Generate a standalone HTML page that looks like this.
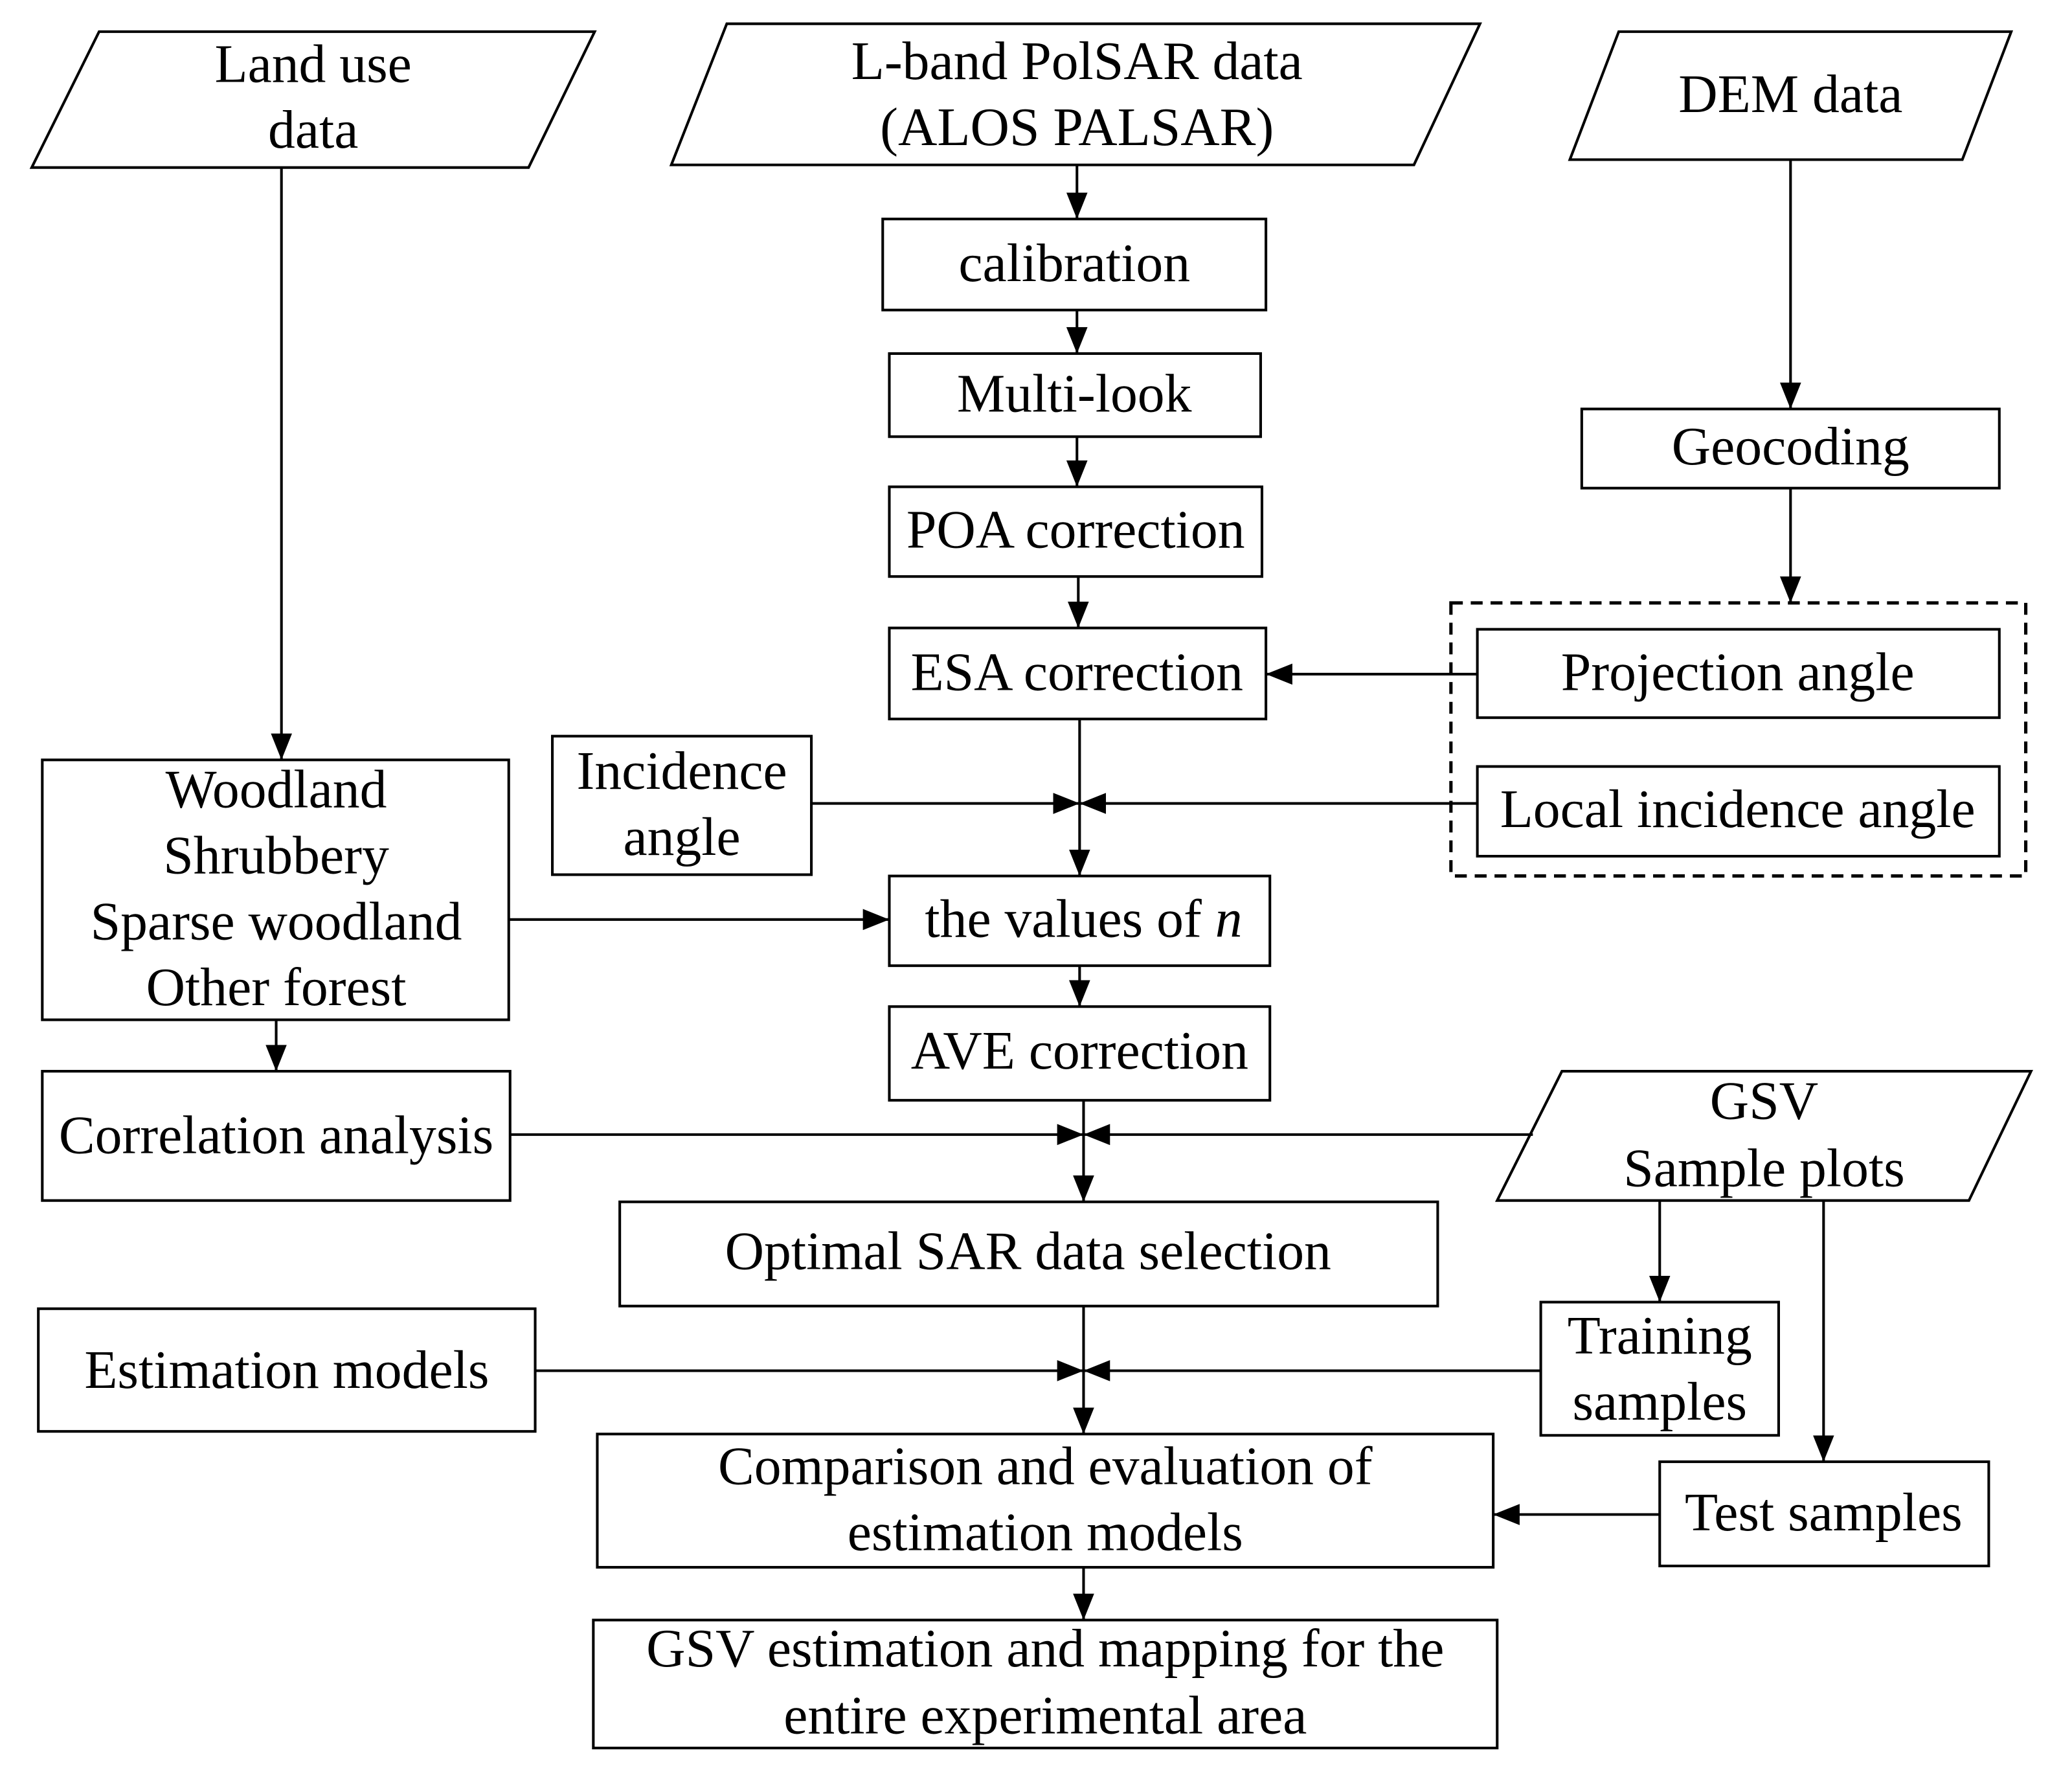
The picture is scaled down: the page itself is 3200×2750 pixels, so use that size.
<!DOCTYPE html>
<html><head><meta charset="utf-8"><style>
html,body{margin:0;padding:0;background:#fff;}
svg{display:block;}
text{font-family:"Liberation Serif",serif;font-size:41px;fill:#000;text-anchor:middle;}
</style></head><body>
<svg width="3200" height="2750" viewBox="0 0 1568 1350" preserveAspectRatio="none" xmlns="http://www.w3.org/2000/svg">
<defs>
<marker id="a" markerUnits="userSpaceOnUse" markerWidth="20" markerHeight="16" refX="20" refY="8" orient="auto">
<path d="M0,0 L20,8 L0,16 Z" fill="#000"/></marker>
</defs>
<g fill="none" stroke="#000" stroke-width="2">
<polygon points="75,24 450,24 400,127 24,127"/>
<polygon points="550,18 1120,18 1070,125 508,125"/>
<polygon points="1225,24 1522,24 1485,121 1188,121"/>
<rect x="668" y="166" width="290" height="69"/>
<rect x="673" y="268" width="281" height="63"/>
<rect x="673" y="369" width="282" height="68"/>
<rect x="673" y="476" width="285" height="69"/>
<rect x="1197" y="310" width="316" height="60"/>
<rect x="1098" y="457" width="435" height="207" stroke-dasharray="9,6" stroke-width="2.5"/>
<rect x="1118" y="477" width="395" height="67"/>
<rect x="1118" y="581" width="395" height="68"/>
<rect x="418" y="558" width="196" height="105"/>
<rect x="673" y="664" width="288" height="68"/>
<rect x="32" y="576" width="353" height="197"/>
<rect x="673" y="763" width="288" height="71"/>
<rect x="32" y="812" width="354" height="98"/>
<polygon points="1182,812 1537,812 1490,910 1133,910"/>
<rect x="469" y="911" width="619" height="79"/>
<rect x="29" y="992" width="376" height="93"/>
<rect x="1166" y="987" width="180" height="101"/>
<rect x="452" y="1087" width="678" height="101"/>
<rect x="1256" y="1108" width="249" height="79"/>
<rect x="449" y="1228" width="684" height="97"/>
</g>
<g fill="none" stroke="#000" stroke-width="2" marker-end="url(#a)">
<line x1="213" y1="127" x2="213" y2="576"/>
<line x1="815" y1="125" x2="815" y2="166"/>
<line x1="815" y1="235" x2="815" y2="268"/>
<line x1="815" y1="331" x2="815" y2="369"/>
<line x1="816" y1="437" x2="816" y2="476"/>
<line x1="1355" y1="121" x2="1355" y2="310"/>
<line x1="1355" y1="370" x2="1355" y2="457"/>
<line x1="1118" y1="511" x2="958" y2="511"/>
<line x1="817" y1="545" x2="817" y2="664"/>
<line x1="614" y1="609" x2="817" y2="609"/>
<line x1="1118" y1="609" x2="817" y2="609"/>
<line x1="385" y1="697" x2="673" y2="697"/>
<line x1="817" y1="732" x2="817" y2="763"/>
<line x1="209" y1="773" x2="209" y2="812"/>
<line x1="820" y1="834" x2="820" y2="911"/>
<line x1="386" y1="860" x2="820" y2="860"/>
<line x1="1160" y1="860" x2="820" y2="860"/>
<line x1="1256" y1="910" x2="1256" y2="987"/>
<line x1="1380" y1="910" x2="1380" y2="1108"/>
<line x1="820" y1="990" x2="820" y2="1087"/>
<line x1="405" y1="1039" x2="820" y2="1039"/>
<line x1="1166" y1="1039" x2="820" y2="1039"/>
<line x1="1256" y1="1148" x2="1130" y2="1148"/>
<line x1="820" y1="1188" x2="820" y2="1228"/>
</g>
<text x="237" y="62">Land use</text>
<text x="237" y="112">data</text>
<text x="815" y="60">L-band PolSAR data</text>
<text x="815" y="110">(ALOS PALSAR)</text>
<text x="1355" y="85">DEM data</text>
<text x="813" y="213">calibration</text>
<text x="813" y="312">Multi-look</text>
<text x="814" y="415">POA correction</text>
<text x="815" y="523">ESA correction</text>
<text x="1355" y="352">Geocoding</text>
<text x="1315" y="523">Projection angle</text>
<text x="1315" y="627">Local incidence angle</text>
<text x="516" y="598">Incidence</text>
<text x="516" y="648">angle</text>
<text x="820" y="710">the values of <tspan font-style="italic">n</tspan></text>
<text x="209" y="612">Woodland</text>
<text x="209" y="662">Shrubbery</text>
<text x="209" y="712">Sparse woodland</text>
<text x="209" y="762">Other forest</text>
<text x="817" y="810">AVE correction</text>
<text x="209" y="874">Correlation analysis</text>
<text x="1335" y="848">GSV</text>
<text x="1335" y="899">Sample plots</text>
<text x="778" y="962">Optimal SAR data selection</text>
<text x="217" y="1052">Estimation models</text>
<text x="1256" y="1026">Training</text>
<text x="1256" y="1076">samples</text>
<text x="791" y="1125">Comparison and evaluation of</text>
<text x="791" y="1175">estimation models</text>
<text x="1380" y="1160">Test samples</text>
<text x="791" y="1263">GSV estimation and mapping for the</text>
<text x="791" y="1314">entire experimental area</text>
</svg>
</body></html>
